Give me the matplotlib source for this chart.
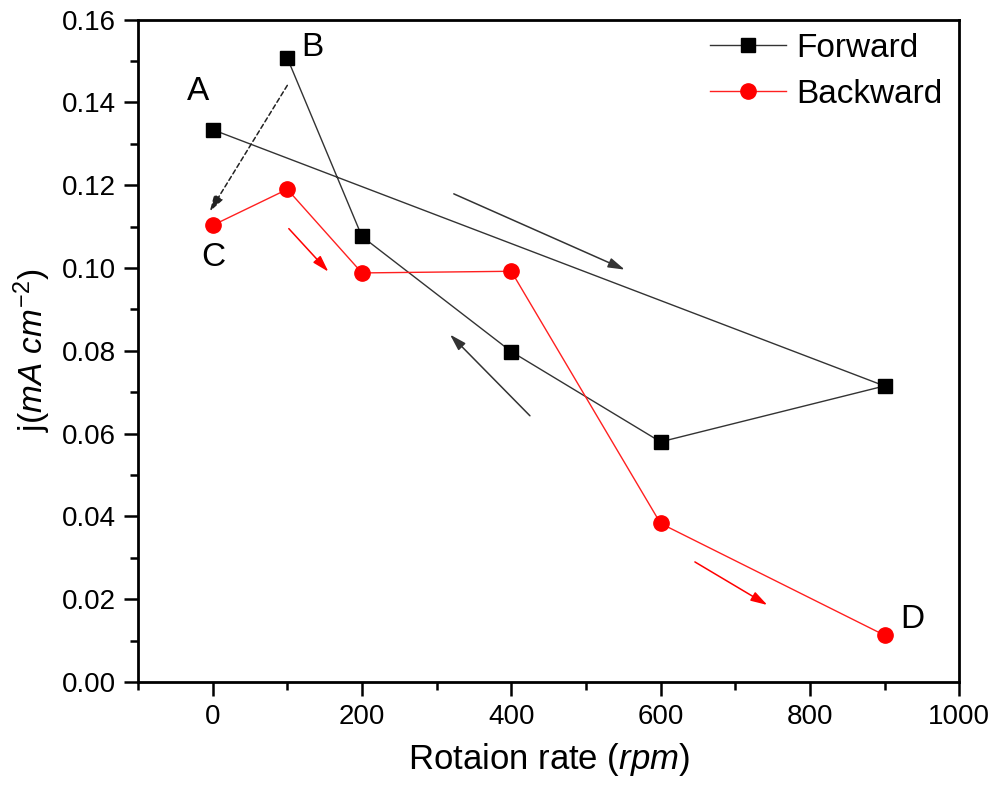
import matplotlib
matplotlib.use("Agg")
import matplotlib.pyplot as plt
from matplotlib.ticker import MultipleLocator, FormatStrFormatter

plt.rcParams['font.family'] = ['Liberation Sans', 'DejaVu Sans']
plt.rcParams['mathtext.fontset'] = 'custom'
plt.rcParams['mathtext.rm'] = 'Liberation Sans'
plt.rcParams['mathtext.it'] = 'Liberation Sans:italic'

# Forward sweep (order of measurement)
fwd_x = [0, 900, 600, 400, 200, 100]
fwd_y = [0.1334, 0.0715, 0.0580, 0.0798, 0.1076, 0.1507]
# Backward sweep
bwd_x = [0, 100, 200, 400, 600, 900]
bwd_y = [0.1103, 0.1190, 0.0988, 0.0992, 0.0383, 0.0113]

point_labels = ['A', 'B', 'C', 'D']
label_pos = [(-20, 0.1426), (134, 0.1532), (1, 0.1025), (937, 0.0150)]

fig = plt.figure(figsize=(9.95, 7.91), dpi=100)
ax = fig.add_axes([0.1387, 0.1378, 0.8253, 0.8375])

ax.plot(fwd_x, fwd_y, color='#333333', lw=1.0, marker='s', ms=10,
        mfc='black', mec='black', label='Forward')
ax.plot(bwd_x, bwd_y, color='#ff2020', lw=1.0, marker='o', ms=11,
        mfc='red', mec='red', label='Backward')

for t, (x, y) in zip(point_labels, label_pos):
    ax.text(x, y, t, fontsize=24, ha='center', va='center')

def arrow(x0, y0, x1, y1, color, ls='-'):
    ax.annotate('', xy=(x1, y1), xytext=(x0, y0),
                arrowprops=dict(arrowstyle='-|>,head_length=1.0,head_width=0.3',
                                color=color, lw=1.1, linestyle=ls,
                                shrinkA=0, shrinkB=0))

arrow(100, 0.1441, -4, 0.1136, '#222222', ls=(0, (3, 2)))
arrow(102, 0.1095, 155, 0.0991, 'red')
arrow(323, 0.1179, 552, 0.0996, '#333333')
arrow(425, 0.0643, 318, 0.0839, '#333333')
arrow(646, 0.0290, 743, 0.0186, 'red')

ax.set_xlim(-100, 1000)
ax.set_ylim(0, 0.16)
ax.xaxis.set_major_locator(MultipleLocator(200))
ax.xaxis.set_minor_locator(MultipleLocator(100))
ax.yaxis.set_major_locator(MultipleLocator(0.02))
ax.yaxis.set_minor_locator(MultipleLocator(0.01))
ax.yaxis.set_major_formatter(FormatStrFormatter('%.2f'))
ax.tick_params(which='major', direction='out', length=10, width=1.8, labelsize=20, pad=6)
ax.tick_params(which='minor', direction='out', length=6, width=1.8)
ax.tick_params(top=False, right=False, which='both')
for s in ax.spines.values():
    s.set_linewidth(2.0)

ax.set_xlabel(r'Rotaion rate ($\mathit{rpm}$)', fontsize=25, labelpad=8)
ax.set_ylabel(r'j($\mathit{mA\ cm^{-2}}$)', fontsize=24, labelpad=6)

ax.legend(loc='upper right', bbox_to_anchor=(0.992, 0.995), frameon=False,
          fontsize=24, handlelength=2.3, handletextpad=0.3,
          borderaxespad=0.0, borderpad=0.3, labelspacing=0.45)

fig.savefig('out.png', dpi=100)
